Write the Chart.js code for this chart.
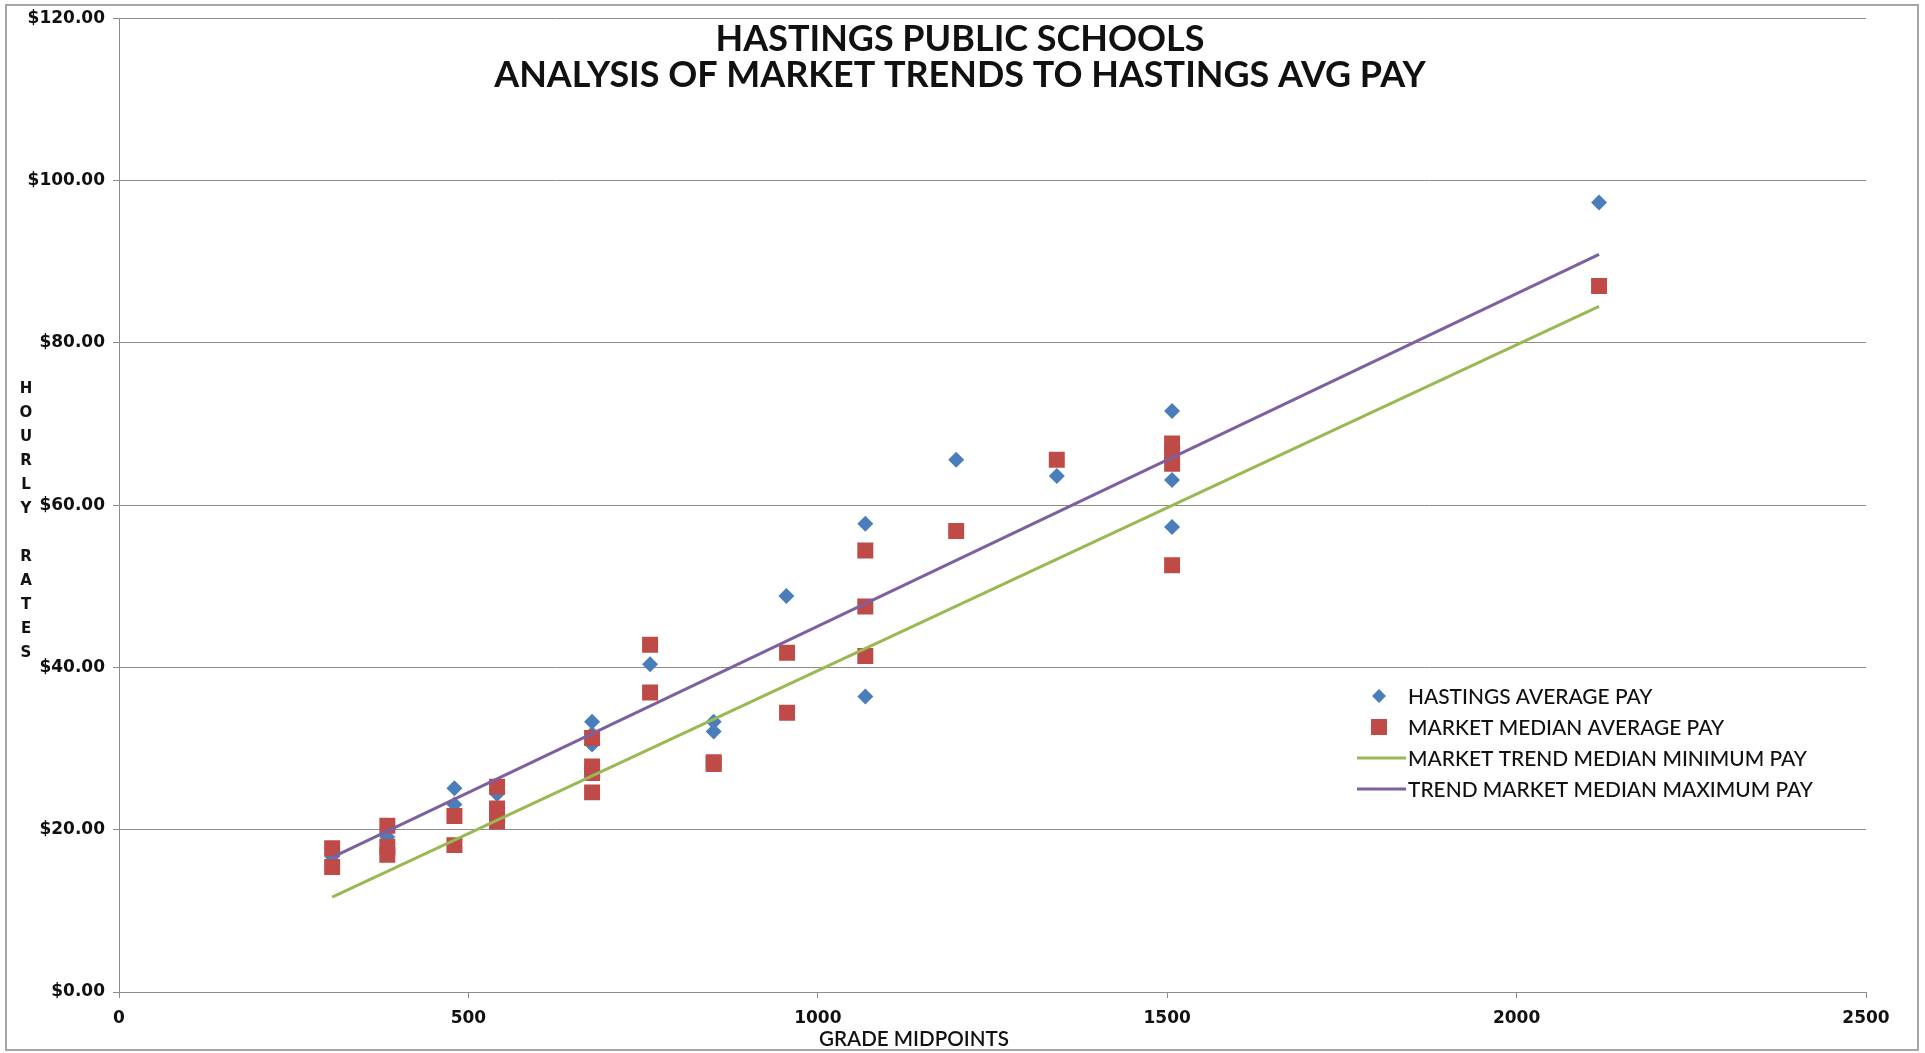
<!DOCTYPE html>
<html>
<head>
<meta charset="utf-8">
<script src="https://cdn.jsdelivr.net/npm/chart.js@4.4.1/dist/chart.umd.min.js"></script>
<style>
  html, body { margin: 0; padding: 0; background: #ffffff; }
  #wrap { width: 1925px; height: 1053px; position: relative; }
</style>
</head>
<body>
<div id="wrap"><canvas id="c" width="1925" height="1053"></canvas></div>
<script>
// ---- data ----
const titleLines = ['HASTINGS PUBLIC SCHOOLS', 'ANALYSIS OF MARKET TRENDS TO HASTINGS AVG PAY'];
const xAxisTitle = 'GRADE MIDPOINTS';
const yAxisTitle = 'HOURLY RATES';
const seriesNames = ['HASTINGS AVERAGE PAY', 'MARKET MEDIAN AVERAGE PAY', 'MARKET TREND MEDIAN MINIMUM PAY', 'TREND MARKET MEDIAN MAXIMUM PAY'];

const hastingsX = [305, 384, 480, 480, 541, 677, 677, 677, 760, 851, 851, 955, 1068, 1068, 1198, 1342, 1507, 1507, 1507, 2118];
const hastingsY = [16.7, 19.1, 25.1, 23.1, 24.4, 33.3, 31.8, 30.5, 40.4, 33.3, 32.1, 48.8, 57.7, 36.4, 65.6, 63.6, 71.6, 63.1, 57.3, 97.3];

const marketX = [305, 305, 384, 384, 384, 480, 480, 541, 541, 541, 541, 677, 677, 677, 677, 760, 760, 851, 851, 956, 956, 1068, 1068, 1068, 1198, 1342, 1507, 1507, 1507, 1507, 2118];
const marketY = [17.7, 15.4, 20.5, 17.9, 16.9, 21.7, 18.1, 25.3, 22.6, 21.8, 21.0, 31.3, 27.8, 27.0, 24.6, 42.8, 36.9, 28.3, 28.1, 41.8, 34.4, 54.4, 47.5, 41.4, 56.8, 65.6, 67.6, 66.3, 65.1, 52.6, 87.0];

const trendX = [305, 2118];
const trendMinY = [11.7, 84.5];
const trendMaxY = [16.6, 90.9];

const xTicks = [0, 500, 1000, 1500, 2000, 2500];
const yTicks = [0, 20, 40, 60, 80, 100, 120];

// ---- build datasets ----
const pts = (xs, ys) => xs.map((x, i) => ({ x: x, y: ys[i] }));

const COLORS = { blue: '#4A7EBB', red: '#BE4B48', green: '#98B954', purple: '#7D60A0' };

const bodyFont = 'Lato, "Open Sans", "Liberation Sans", sans-serif';
const tickFont = '"DejaVu Sans", Verdana, sans-serif';

// size a font so that a text reaches a target width
function fitFont(ctx, text, weight, family, target) {
  ctx.font = weight + ' 100px ' + family;
  const w = ctx.measureText(text).width;
  const size = 100 * target / w;
  return weight + ' ' + size.toFixed(2) + 'px ' + family;
}

const decorPlugin = {
  id: 'decor',
  beforeDraw(chart) {
    const ctx = chart.ctx;
    ctx.save();
    ctx.fillStyle = '#ffffff';
    ctx.fillRect(0, 0, chart.width, chart.height);
    ctx.strokeStyle = '#a6a6a6';
    ctx.lineWidth = 2;
    ctx.strokeRect(6, 5, 1912, 1045);
    ctx.restore();
  },
  afterDraw(chart) {
    const ctx = chart.ctx;
    ctx.save();
    // Title (drawn inside plot area as in the reference)
    ctx.fillStyle = '#111111';
    ctx.textAlign = 'center';
    ctx.textBaseline = 'middle';
    ctx.font = fitFont(ctx, titleLines[1], 'bold', bodyFont, 932);
    ctx.fillText(titleLines[0], 960, 39);
    ctx.fillText(titleLines[1], 960, 75);

    // X axis title
    ctx.font = fitFont(ctx, xAxisTitle, '600', bodyFont, 190);
    ctx.fillText(xAxisTitle, 914, 1039);

    // Y axis title, letters stacked
    ctx.font = 'bold 15px ' + tickFont;
    const letters = yAxisTitle.split('');
    letters.forEach((ch, i) => {
      if (ch !== ' ') ctx.fillText(ch, 26, 389 + i * 24.0);
    });

    // Legend
    const lx = 1379, tx = 1408;
    const rows = [696, 727, 758, 789];
    ctx.textAlign = 'left';
    ctx.font = fitFont(ctx, seriesNames[2], '500', bodyFont, 399);
    // diamond
    ctx.fillStyle = COLORS.blue;
    ctx.beginPath();
    ctx.moveTo(lx - 7, rows[0]); ctx.lineTo(lx, rows[0] - 7); ctx.lineTo(lx + 7, rows[0]); ctx.lineTo(lx, rows[0] + 7);
    ctx.closePath(); ctx.fill();
    // square
    ctx.fillStyle = COLORS.red;
    ctx.fillRect(lx - 8, rows[1] - 8, 16, 16);
    // lines
    ctx.lineWidth = 3;
    ctx.strokeStyle = COLORS.green;
    ctx.beginPath(); ctx.moveTo(1357, rows[2]); ctx.lineTo(1406, rows[2]); ctx.stroke();
    ctx.strokeStyle = COLORS.purple;
    ctx.beginPath(); ctx.moveTo(1357, rows[3]); ctx.lineTo(1406, rows[3]); ctx.stroke();
    ctx.fillStyle = '#111111';
    seriesNames.forEach((n, i) => ctx.fillText(n, tx, rows[i] + 1));
    ctx.restore();
  }
};

new Chart(document.getElementById('c'), {
  type: 'scatter',
  data: {
    datasets: [
      {
        label: seriesNames[0], data: pts(hastingsX, hastingsY), order: 4,
        pointStyle: 'rectRot', pointRadius: 8, pointHoverRadius: 8,
        backgroundColor: COLORS.blue, borderColor: COLORS.blue, borderWidth: 0
      },
      {
        label: seriesNames[1], data: pts(marketX, marketY), order: 3,
        pointStyle: 'rect', pointRadius: 11.3, pointHoverRadius: 11.3,
        backgroundColor: COLORS.red, borderColor: COLORS.red, borderWidth: 0
      },
      {
        label: seriesNames[2], data: pts(trendX, trendMinY), order: 2,
        showLine: true, pointRadius: 0, borderWidth: 3,
        borderColor: COLORS.green, backgroundColor: COLORS.green
      },
      {
        label: seriesNames[3], data: pts(trendX, trendMaxY), order: 1,
        showLine: true, pointRadius: 0, borderWidth: 3,
        borderColor: COLORS.purple, backgroundColor: COLORS.purple
      }
    ]
  },
  options: {
    responsive: false,
    animation: false,
    layout: { padding: { left: 0, right: 59, top: 17, bottom: 0 } },
    plugins: {
      legend: { display: false },
      title: { display: false },
      tooltip: { enabled: false }
    },
    scales: {
      x: {
        type: 'linear', min: 0, max: 2500,
        afterBuildTicks: (s) => { s.ticks = xTicks.map(v => ({ value: v })); },
        afterFit: (s) => { s.height = 61; },
        grid: { drawOnChartArea: false, drawTicks: true, tickLength: 6, color: '#8c8c8c', lineWidth: 1 },
        border: { display: true, color: '#8c8c8c', width: 1 },
        ticks: { color: '#111111', font: { family: tickFont, size: 17, weight: 'bold' }, padding: 10, maxRotation: 0,
                 callback: (v) => String(v) }
      },
      y: {
        type: 'linear', min: 0, max: 120,
        afterBuildTicks: (s) => { s.ticks = yTicks.map(v => ({ value: v })); },
        afterFit: (s) => { s.width = 119; },
        grid: { drawOnChartArea: true, drawTicks: true, tickLength: 6, color: '#8c8c8c', lineWidth: 1 },
        border: { display: true, color: '#8c8c8c', width: 1 },
        ticks: { color: '#111111', font: { family: tickFont, size: 17, weight: 'bold' }, padding: 8,
                 callback: (v) => '$' + Number(v).toFixed(2) }
      }
    }
  },
  plugins: [decorPlugin]
});
</script>
</body>
</html>
